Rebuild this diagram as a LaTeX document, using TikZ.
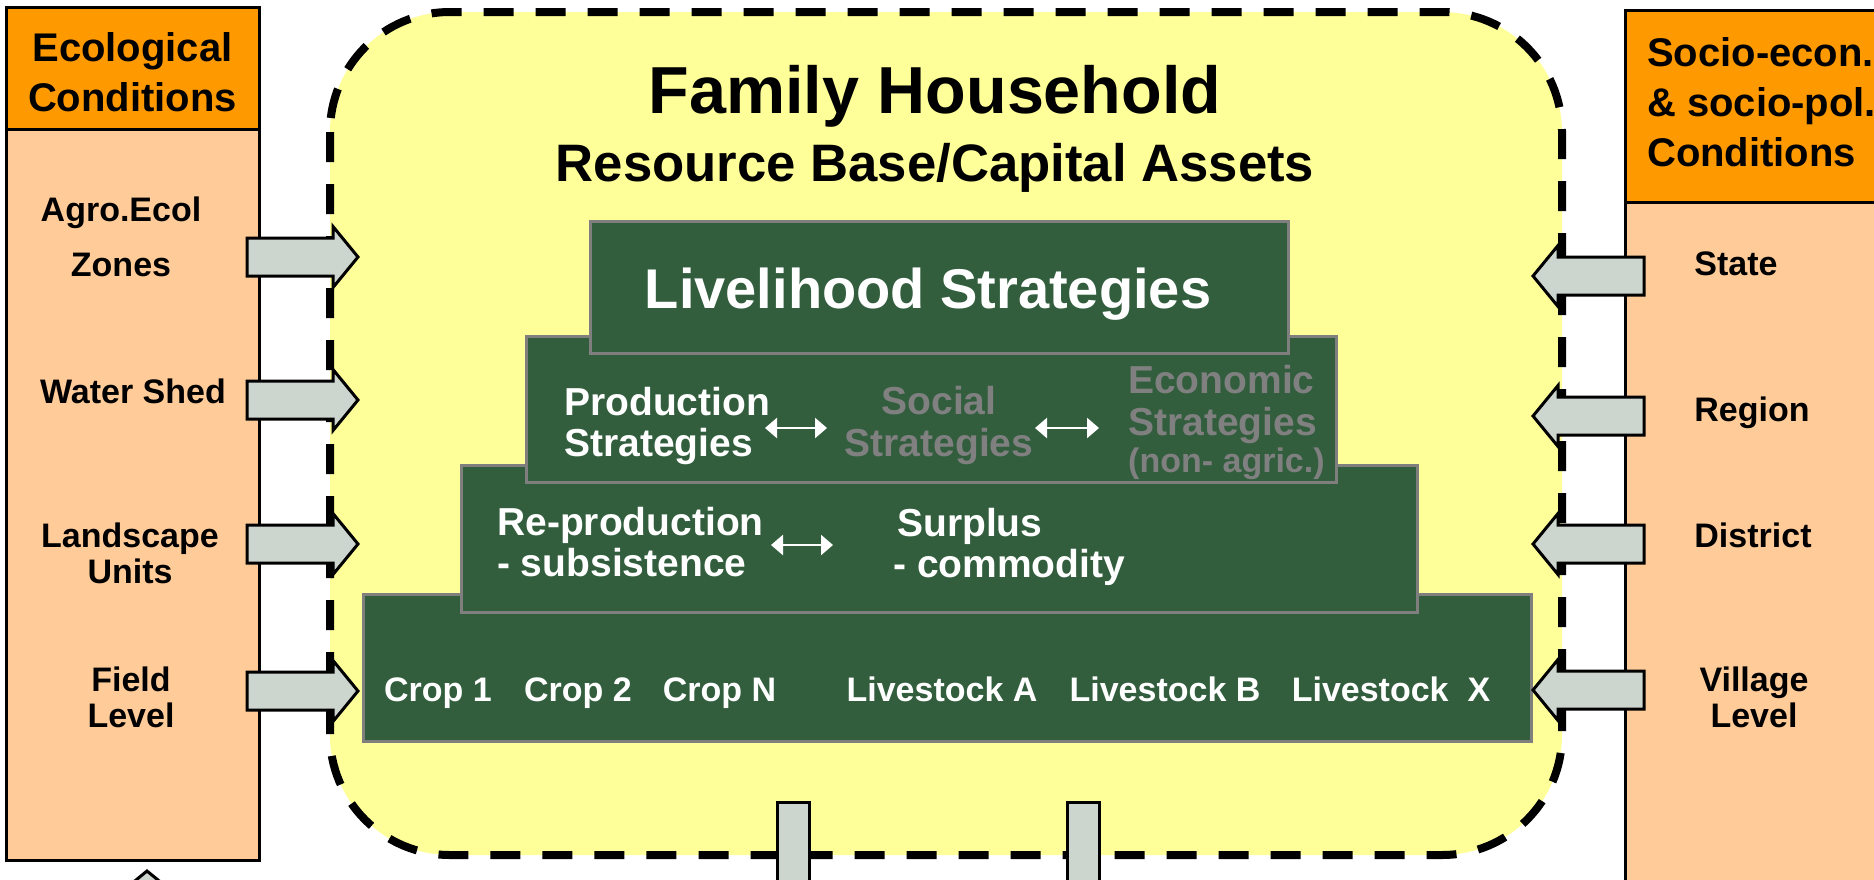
\documentclass[tikz,border=0pt]{standalone}
\usepackage{fontspec}
\setmainfont{Liberation Sans}
\usetikzlibrary{arrows.meta}
\definecolor{hdrorange}{HTML}{FF9900}
\definecolor{peach}{HTML}{FFCC99}
\definecolor{paleyellow}{HTML}{FFFF99}
\definecolor{darkgreen}{HTML}{325E3E}
\definecolor{boxgray}{HTML}{7F7F7F}
\definecolor{arrowfill}{HTML}{CDD5CF}
\definecolor{dimtext}{HTML}{808080}
\tikzset{
  colline/.style={draw=black, line width=3pt},
  hdr/.style={font=\bfseries\fontsize{40}{50}\selectfont, inner sep=0pt},
  lab/.style={font=\bfseries\fontsize{34}{36}\selectfont, align=center, inner sep=0pt},
  gbox/.style={draw=boxgray, fill=darkgreen, line width=3pt, inner sep=0pt},
  wtxt/.style={text=white, font=\bfseries\fontsize{39}{41}\selectfont, align=left, inner sep=0pt},
  gtxt/.style={text=dimtext, font=\bfseries\fontsize{39}{42}\selectfont, align=left, inner sep=0pt},
  rowtxt/.style={text=white, font=\bfseries\fontsize{34}{36}\selectfont, inner sep=0pt, anchor=base},
  dbl/.style={draw=white, line width=2.5pt, {Triangle[length=12pt,width=20pt]}-{Triangle[length=12pt,width=20pt]}},
  blockarrow/.pic={\draw[line width=3pt, fill=arrowfill, line join=miter]
     (0,-19) -- (86,-19) -- (86,-30.5) -- (111,0) -- (86,30.5) -- (86,19) -- (0,19) -- cycle;},
}
\begin{document}
\begin{tikzpicture}[x=1pt,y=-1pt]
\clip (0,0) rectangle (1874,879);
\fill[white] (0,0) rectangle (1874,879);
% left column
\draw[colline, fill=peach] (6,7) rectangle (259,860);
\draw[colline, fill=hdrorange] (6,7) rectangle (259,129);
% right column
\draw[colline, fill=peach] (1625,10) rectangle (1900,900);
\draw[colline, fill=hdrorange] (1625,10) rectangle (1900,202);
% household area
\draw[fill=paleyellow, line width=8pt, dash pattern=on 30pt off 22pt, rounded corners=120pt] (330,12) rectangle (1562,855);
% pyramid
\node[gbox, minimum width=1168pt, minimum height=147pt] (lvl4) at (947,667.5) {};
\node[gbox, minimum width=956pt, minimum height=147pt] (lvl3) at (939,538.5) {};
\node[gbox, minimum width=810pt, minimum height=146pt] (lvl2) at (931,409) {};
\node[gbox, minimum width=698pt, minimum height=132pt] (lvl1) at (939,287) {};
% side arrows
\pic at (247,257) {blockarrow};
\pic at (247,400) {blockarrow};
\pic at (247,544) {blockarrow};
\pic at (247,691) {blockarrow};
\pic[rotate=180] at (1644,276) {blockarrow};
\pic[rotate=180] at (1644,416) {blockarrow};
\pic[rotate=180] at (1644,544) {blockarrow};
\pic[rotate=180] at (1644,690) {blockarrow};
\pic[rotate=90] at (147,982) {blockarrow};
% bottom shafts
\draw[line width=3pt, fill=arrowfill] (777,802) rectangle (809,900);
\draw[line width=3pt, fill=arrowfill] (1067,802) rectangle (1099,900);
% headers
\node[hdr, align=center] (ecohdr) at (132.5,72.5) {Ecological\\Conditions};
\node[hdr, align=left, anchor=west] (sochdr) at (1647,102) {Socio-econ.\\\& socio-pol.\\Conditions};
% left labels
\node[lab, font=\bfseries\fontsize{34}{55}\selectfont] (agro) at (121,237) {Agro.Ecol\\Zones};
\node[lab, anchor=base] (water) at (133,403) {Water Shed};
\node[lab] (land) at (130,553) {Landscape\\Units};
\node[lab] (field) at (131,697) {Field\\Level};
% right labels
\node[lab, anchor=base] (state) at (1736,275) {State};
\node[lab, anchor=base] (region) at (1752,421) {Region};
\node[lab, anchor=base] (district) at (1753,547) {District};
\node[lab] (village) at (1754,697) {Village\\Level};
% titles
\node[font=\bfseries\fontsize{66.5}{70}\selectfont, anchor=base, inner sep=0pt] (title) at (935,113) {Family Household};
\node[font=\bfseries\fontsize{52.7}{56}\selectfont, anchor=base, inner sep=0pt] (subtitle) at (935,181) {Resource Base/Capital Assets};
\node[text=white, font=\bfseries\fontsize{56}{58}\selectfont, anchor=base, inner sep=0pt] (liv) at (928,308) {Livelihood Strategies};
% level 2
\node[wtxt, anchor=west] (prod) at (564,425.5) {Production\\Strategies};
\node[gtxt, align=center] (soc) at (939,425.5) {Social\\Strategies};
\node[gtxt, anchor=west] (econ) at (1128,404) {Economic\\Strategies};
\node[text=dimtext, font=\bfseries\fontsize{34}{36}\selectfont, anchor=base west, inner sep=0pt] (econb) at (1128,472) {(non- agric.)};
\coordinate (a1s) at (765,428); \coordinate (a1e) at (827,428);
\coordinate (a2s) at (1035,428); \coordinate (a2e) at (1099,428);
\draw[dbl] (a1s) -- (a1e);
\draw[dbl] (a2s) -- (a2e);
% level 3
\node[wtxt, anchor=west] (repro) at (497,542.5) {Re-production\\- subsistence};
\node[wtxt, anchor=west] (surp) at (893,546.5) {\hspace*{4pt}Surplus\\- commodity};
\coordinate (a3s) at (771,545); \coordinate (a3e) at (833,545);
\draw[dbl] (a3s) -- (a3e);
% level 4
\node[rowtxt] (c1) at (438,701) {Crop 1};
\node[rowtxt] (c2) at (578,701) {Crop 2};
\node[rowtxt] (cn) at (719.5,701) {Crop N};
\node[rowtxt] (la) at (942,701) {Livestock A};
\node[rowtxt] (lb) at (1165,701) {Livestock B};
\node[rowtxt] (lx) at (1391,701) {Livestock\ \ X};
\end{tikzpicture}
\end{document}
